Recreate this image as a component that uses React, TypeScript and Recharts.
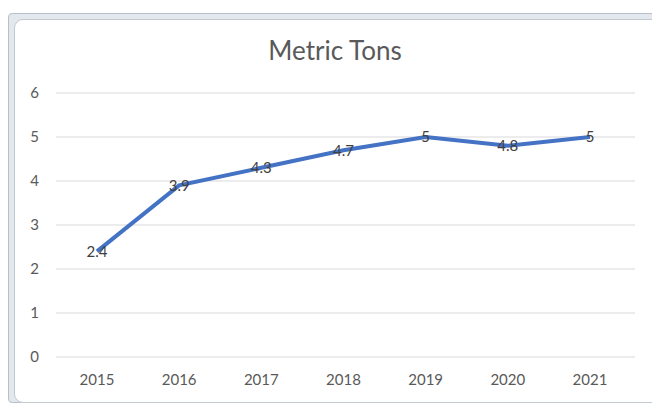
import { LineChart, Line, XAxis, YAxis, CartesianGrid, LabelList } from "recharts";

const years = ["2015", "2016", "2017", "2018", "2019", "2020", "2021"];
const tons = [2.4, 3.9, 4.3, 4.7, 5, 4.8, 5];
const yTicks = [0, 1, 2, 3, 4, 5, 6];

const data = years.map((year, i) => ({ year, tons: tons[i] }));

const FONT = "Lato, 'Open Sans', sans-serif";

export default function App() {
  return (
    <div
      style={{
        position: "fixed",
        left: 0,
        top: 0,
        width: 652,
        height: 404,
        overflow: "hidden",
        background: "#fff",
        fontFamily: FONT,
      }}
    >
      {/* excel-ish chart frame */}
      <div
        style={{
          position: "absolute",
          left: 8,
          top: 13,
          width: 660,
          height: 388,
          background: "#e3e8ee",
          border: "1px solid #b7bfca",
          borderRadius: 4,
        }}
      />
      <div
        style={{
          position: "absolute",
          left: 14,
          top: 19,
          width: 650,
          height: 382,
          background: "#fff",
          border: "1px solid #c3c9d1",
          borderRadius: "9px 0 0 9px",
        }}
      />
      <div
        style={{
          position: "absolute",
          left: 0,
          top: 34,
          width: 670,
          textAlign: "center",
          fontSize: 26,
          color: "#595959",
        }}
      >
        Metric Tons
      </div>
      <div style={{ position: "absolute", left: 0, top: 0 }}>
        <LineChart width={652} height={404} data={data} margin={{ top: 93, right: 17, bottom: 17, left: 0 }}>
          <CartesianGrid vertical={false} stroke="#d9d9d9" />
          <XAxis
            dataKey="year"
            height={30}
            padding={{ left: 41, right: 45 }}
            axisLine={false}
            tickLine={false}
            tickSize={0}
            tickMargin={17}
            tick={{ fontSize: 15, fill: "#595959", fontFamily: FONT }}
          />
          <YAxis
            width={56}
            domain={[0, 6]}
            ticks={yTicks}
            axisLine={false}
            tickLine={false}
            tickSize={0}
            tickMargin={17}
            tick={{ fontSize: 15, fill: "#595959", fontFamily: FONT }}
          />
          <Line
            type="linear"
            dataKey="tons"
            stroke="#4472c4"
            strokeWidth={4}
            dot={false}
            isAnimationActive={false}
          >
            <LabelList
              dataKey="tons"
              position="center"
              style={{ fontSize: 15, fill: "#404040", fontFamily: FONT }}
            />
          </Line>
        </LineChart>
      </div>
    </div>
  );
}
